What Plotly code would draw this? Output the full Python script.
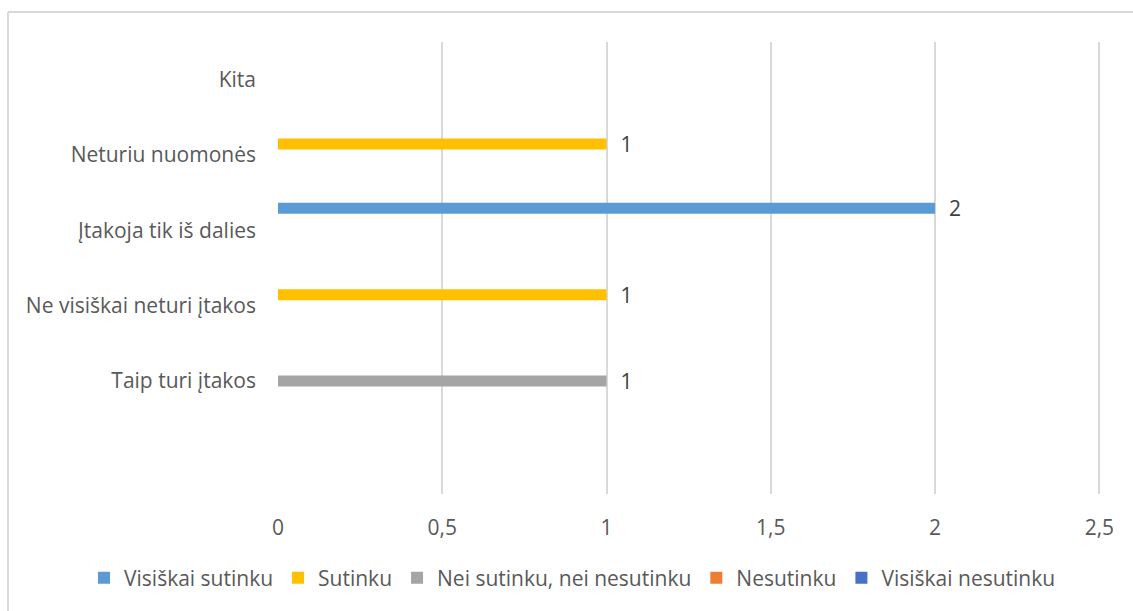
import plotly.graph_objects as go

# Answer categories (top to bottom)
categories = [
    "Kita",
    "Neturiu nuomonės",
    "Įtakoja tik iš dalies",
    "Ne visiškai neturi įtakos",
    "Taip turi įtakos",
]

# Series names and counts per category (None = no answer)
series_names = [
    "Visiškai sutinku",
    "Sutinku",
    "Nei sutinku, nei nesutinku",
    "Nesutinku",
    "Visiškai nesutinku",
]
visiskai_sutinku = [None, None, 2, None, None]
sutinku = [None, 1, None, 1, None]
nei_sutinku_nei_nesutinku = [None, None, None, None, 1]
nesutinku = [None, None, None, None, None]
visiskai_nesutinku = [None, None, None, None, None]

series_values = [
    visiskai_sutinku,
    sutinku,
    nei_sutinku_nei_nesutinku,
    nesutinku,
    visiskai_nesutinku,
]
series_colors = ["#5B9BD5", "#FFC000", "#A5A5A5", "#ED7D31", "#4472C4"]

x_tick_values = [0, 0.5, 1, 1.5, 2, 2.5]
x_tick_labels = ["0", "0,5", "1", "1,5", "2", "2,5"]

FONT = "'Open Sans', Lato, sans-serif"
TEXT_GREY = "#595959"
GRID = "#D9D9D9"
FS = 21

W, H = 1133, 611
ML, MR, MT, MB = 278, 31, 42, 117
pw = W - ML - MR
ph = H - MT - MB


def px_to_paper_x(px):
    return (px - ML) / pw


def px_to_paper_y(py):
    return (H - MB - py) / ph


fig = go.Figure()
for name, vals, color in zip(series_names, series_values, series_colors):
    fig.add_trace(
        go.Bar(
            name=name,
            y=categories,
            x=vals,
            orientation="h",
            marker=dict(color=color, line=dict(width=0)),
            text=["\u00a0\u00a0" + f"{v:g}" if v is not None else "" for v in vals],
            textposition="outside",
            constraintext="none",
            cliponaxis=False,
            textfont=dict(family=FONT, size=FS, color="#404040"),
            hoverinfo="x+y+name",
        )
    )

# outer chart frame (top and left edges)
fig.add_shape(type="line", xref="paper", yref="paper",
              x0=px_to_paper_x(8), x1=px_to_paper_x(W + 5),
              y0=px_to_paper_y(12), y1=px_to_paper_y(12),
              line=dict(color=GRID, width=2))
fig.add_shape(type="line", xref="paper", yref="paper",
              x0=px_to_paper_x(8), x1=px_to_paper_x(8),
              y0=px_to_paper_y(12), y1=px_to_paper_y(H + 5),
              line=dict(color=GRID, width=2))

fig.update_layout(
    width=W,
    height=H,
    margin=dict(l=ML, r=MR, t=MT, b=MB, autoexpand=False),
    paper_bgcolor="white",
    plot_bgcolor="white",
    barmode="group",
    bargap=0.27,
    bargroupgap=0,
    font=dict(family=FONT, size=FS, color=TEXT_GREY),
    showlegend=True,
    legend=dict(
        orientation="h",
        xref="paper",
        yref="paper",
        x=px_to_paper_x(84),
        xanchor="left",
        y=px_to_paper_y(578),
        yanchor="middle",
        font=dict(family=FONT, size=FS, color=TEXT_GREY),
        traceorder="normal",
        itemclick=False,
        itemdoubleclick=False,
    ),
    xaxis=dict(
        range=[0, 2.508],
        tickvals=x_tick_values,
        ticktext=x_tick_labels,
        showgrid=True,
        gridcolor=GRID,
        gridwidth=1.5,
        zeroline=False,
        showline=False,
        ticks="",
        ticklabelstandoff=19,
        tickfont=dict(family=FONT, size=FS, color=TEXT_GREY),
        fixedrange=True,
    ),
    yaxis=dict(
        type="category",
        categoryorder="array",
        categoryarray=categories,
        range=[5.5, -0.5],
        showgrid=False,
        zeroline=False,
        showline=False,
        ticks="",
        ticklabelstandoff=21,
        tickfont=dict(family=FONT, size=FS, color=TEXT_GREY),
        fixedrange=True,
    ),
)

fig.write_html("out.html", include_plotlyjs=True, config={"displayModeBar": False})
